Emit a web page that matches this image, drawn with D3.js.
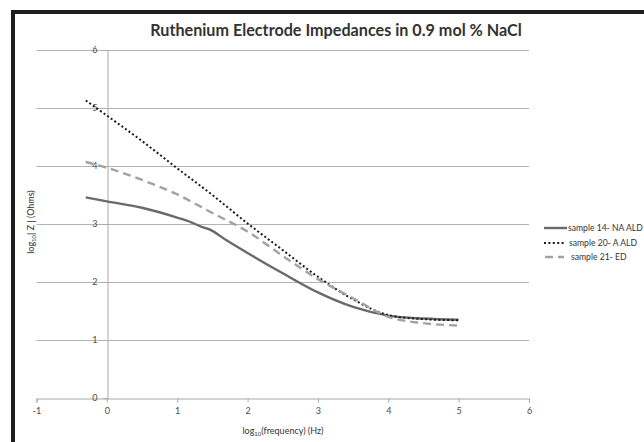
<!DOCTYPE html>
<html><head><meta charset="utf-8">
<script src="https://cdn.jsdelivr.net/npm/d3@7"></script>
<style>
html,body{margin:0;padding:0;background:#fff;overflow:hidden}
svg{display:block}
text{font-family:"Lato","Liberation Sans",sans-serif}
</style></head>
<body>
<svg id="c" width="644" height="442"></svg>
<script>
const title = "Ruthenium Electrode Impedances in 0.9 mol % NaCl";
const xTicks = [-1, 0, 1, 2, 3, 4, 5, 6];
const yTicks = [0, 1, 2, 3, 4, 5, 6];
const seriesNames = ["sample 14- NA ALD", "sample 20- A ALD", "sample 21- ED"];
const s14x = [-0.3, 0, 0.5, 1, 1.2, 1.35, 1.45, 1.7, 2, 2.5, 3, 3.5, 4, 4.5, 5];
const s14y = [3.46, 3.39, 3.28, 3.11, 3.03, 2.95, 2.91, 2.72, 2.50, 2.15, 1.82, 1.57, 1.42, 1.37, 1.35];
const s20x = [-0.3, 0, 0.5, 1, 1.5, 2, 2.5, 3, 3.5, 4, 4.5, 5];
const s20y = [5.13, 4.87, 4.43, 3.96, 3.50, 3.01, 2.55, 2.09, 1.70, 1.43, 1.36, 1.34];
const s21x = [-0.3, 0, 0.5, 1, 1.5, 2, 2.5, 3, 3.5, 4, 4.5, 5];
const s21y = [4.07, 3.97, 3.76, 3.51, 3.19, 2.87, 2.45, 2.05, 1.72, 1.40, 1.29, 1.25];

const svg = d3.select("#c");
const x = d3.scaleLinear().domain([-1, 6]).range([36.5, 529]);
const y = d3.scaleLinear().domain([0, 6]).range([398, 50]);

// frame
svg.append("line").attr("x1", 11).attr("x2", 644).attr("y1", 12).attr("y2", 12)
  .attr("stroke", "#1e1e1e").attr("stroke-width", 4);
svg.append("line").attr("x1", 13).attr("x2", 13).attr("y1", 10).attr("y2", 442)
  .attr("stroke", "#1e1e1e").attr("stroke-width", 4);

// gridlines
svg.append("g").selectAll("line").data(yTicks.filter(d => d > 0)).join("line")
  .attr("x1", x(-1)).attr("x2", x(6)).attr("y1", d => Math.round(y(d)) + 0.5).attr("y2", d => Math.round(y(d)) + 0.5)
  .attr("stroke", "#b4b4b4").attr("stroke-width", 1);

// x axis at y=0
const xAxis = d3.axisBottom(x).tickValues(xTicks).tickSize(4).tickFormat(d3.format("d"));
const gx = svg.append("g").attr("transform", `translate(0,${Math.round(y(0)) + 0.5})`).call(xAxis);
gx.select(".domain").attr("stroke", "#a8a8a8");
gx.selectAll(".tick line").attr("stroke", "#a8a8a8");
gx.selectAll(".tick text").attr("fill", "#4a4a4a").attr("font-size", 9).attr("dy", "0.9em")
  .text(d => d < 0 ? "-" + Math.abs(d) : d);

// y axis at x=0
const yAxis = d3.axisLeft(y).tickValues(yTicks).tickSize(4).tickPadding(6).tickFormat(d3.format("d"));
const gy = svg.append("g").attr("transform", `translate(${Math.round(x(0)) + 0.5},0)`).call(yAxis);
gy.select(".domain").attr("stroke", "#a8a8a8");
gy.selectAll(".tick line").attr("stroke", "#a8a8a8");
gy.selectAll(".tick text").attr("fill", "#4a4a4a").attr("font-size", 9);

// lines
const line = d3.line().x(d => x(d[0])).y(d => y(d[1])).curve(d3.curveMonotoneX);
const series = [
  {pts: d3.zip(s14x, s14y), stroke: "#6a6a6a", w: 2.4, dash: null},
  {pts: d3.zip(s20x, s20y), stroke: "#1c1c1c", w: 2, dash: "2,2.4"},
  {pts: d3.zip(s21x, s21y), stroke: "#a2a2a2", w: 2.4, dash: "8,5"}
];
series.forEach(s => {
  svg.append("path").attr("d", line(s.pts)).attr("fill", "none")
    .attr("stroke", s.stroke).attr("stroke-width", s.w)
    .attr("stroke-dasharray", s.dash);
});

// legend
const legY = [228, 243, 257];
const legX1 = [544, 544, 545], legX2 = [567, 566, 564], legTx = [568, 569, 571];
series.forEach((s, i) => {
  svg.append("line").attr("x1", legX1[i]).attr("x2", legX2[i]).attr("y1", legY[i]).attr("y2", legY[i])
    .attr("stroke", s.stroke).attr("stroke-width", s.w).attr("stroke-dasharray", s.dash);
  svg.append("text").attr("x", legTx[i]).attr("y", legY[i]).attr("dy", "0.35em")
    .attr("font-size", 8.6).attr("fill", "#333").text(seriesNames[i]);
});

// title
const t = svg.append("text").attr("x", 336).attr("y", 30).attr("dy", "0.35em")
  .attr("text-anchor", "middle").attr("font-weight", "bold").attr("font-size", 15)
  .attr("fill", "#333").text(title);
const tw = t.node().getComputedTextLength();
t.attr("font-size", 15 * 372 / tw);

// x axis label
const xl = svg.append("text").attr("x", 283).attr("y", 431).attr("dy", "0.35em")
  .attr("text-anchor", "middle").attr("font-size", 9).attr("fill", "#333");
xl.append("tspan").text("log");
xl.append("tspan").attr("font-size", 6).attr("dy", "0.35em").text("10");
xl.append("tspan").attr("dy", "-0.25em").text("(frequency) (Hz)");

// y axis label
const yl = svg.append("text").attr("transform", "translate(34,222) rotate(-90)")
  .attr("text-anchor", "middle").attr("font-size", 9).attr("fill", "#333");
yl.append("tspan").text("log");
yl.append("tspan").attr("font-size", 6).attr("dy", "0.35em").text("10");
yl.append("tspan").attr("dy", "-0.25em").text("| Z | (Ohms)");
</script>
</body></html>
